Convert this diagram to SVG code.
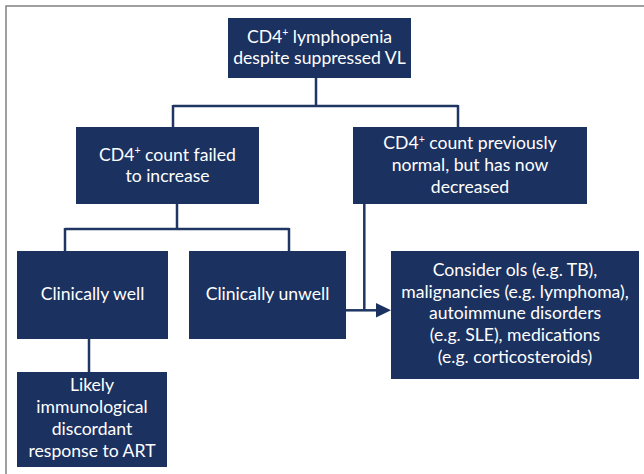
<svg xmlns="http://www.w3.org/2000/svg" width="644" height="474" viewBox="0 0 644 474">
<style>
.box{fill:#1b3160;}
.t{font-family:Lato,"Open Sans","Liberation Sans",sans-serif;font-size:17.6px;fill:#ffffff;text-anchor:middle;}
.sup{font-size:10.5px;}
.c{fill:none;stroke:#1f3663;stroke-width:2.5;}
</style>
<defs>
<marker id="ah" markerWidth="15" markerHeight="15" refX="0" refY="7.3" orient="auto" markerUnits="userSpaceOnUse">
<polygon points="0,0 15,7.3 0,14.6" fill="#1b3160"/>
</marker>
</defs>
<rect x="0" y="0" width="644" height="474" fill="#ffffff"/>
<rect x="6" y="6" width="700" height="520" fill="none" stroke="#808080" stroke-width="1.5"/>
<g id="connectors">
<path class="c" d="M316,78 V106 M173,106 H458 M173,105 V127 M458,105 V127"/>
<path class="c" d="M177,204 V229 M65,229 H289 M65,228 V251 M289,228 V251"/>
<path class="c" d="M89,339 V372"/>
<path class="c" d="M364.3,204 V310.3"/>
<path class="c" d="M346,310.3 H376" marker-end="url(#ah)"/>
</g>
<g id="n1">
<rect class="box" x="228" y="18" width="183" height="60"/>
<text class="t" x="319.5" y="42.5">CD4<tspan class="sup" dy="-6.5">+</tspan><tspan dy="6.5"> lymphopenia</tspan></text>
<text class="t" x="319.5" y="63.5">despite suppressed VL</text>
</g>
<g id="n2">
<rect class="box" x="76" y="127" width="183" height="77"/>
<text class="t" x="167.5" y="160.7">CD4<tspan class="sup" dy="-6.5">+</tspan><tspan dy="6.5"> count failed</tspan></text>
<text class="t" x="167.5" y="181.7">to increase</text>
</g>
<g id="n3">
<rect class="box" x="353" y="127" width="234" height="77"/>
<text class="t" x="470" y="149.3">CD4<tspan class="sup" dy="-6.5">+</tspan><tspan dy="6.5"> count previously</tspan></text>
<text class="t" x="470" y="170.9">normal, but has now</text>
<text class="t" x="470" y="192.6">decreased</text>
</g>
<g id="n4">
<rect class="box" x="17" y="251" width="151" height="88"/>
<text class="t" x="92.5" y="300.3">Clinically well</text>
</g>
<g id="n5">
<rect class="box" x="189" y="251" width="157" height="88"/>
<text class="t" x="267.5" y="300.3">Clinically unwell</text>
</g>
<g id="n6">
<rect class="box" x="17" y="372" width="150" height="95"/>
<text class="t" x="92" y="390.7">Likely</text>
<text class="t" x="92" y="412.9">immunological</text>
<text class="t" x="92" y="434.9">discordant</text>
<text class="t" x="92" y="457">response to ART</text>
</g>
<g id="n7">
<rect class="box" x="391" y="251" width="248" height="128"/>
<text class="t" x="515" y="276">Consider ols (e.g. TB),</text>
<text class="t" x="515" y="297.7">malignancies (e.g. lymphoma),</text>
<text class="t" x="515" y="319.4">autoimmune disorders</text>
<text class="t" x="515" y="341.2">(e.g. SLE), medications</text>
<text class="t" x="515" y="363.2">(e.g. corticosteroids)</text>
</g>
</svg>
